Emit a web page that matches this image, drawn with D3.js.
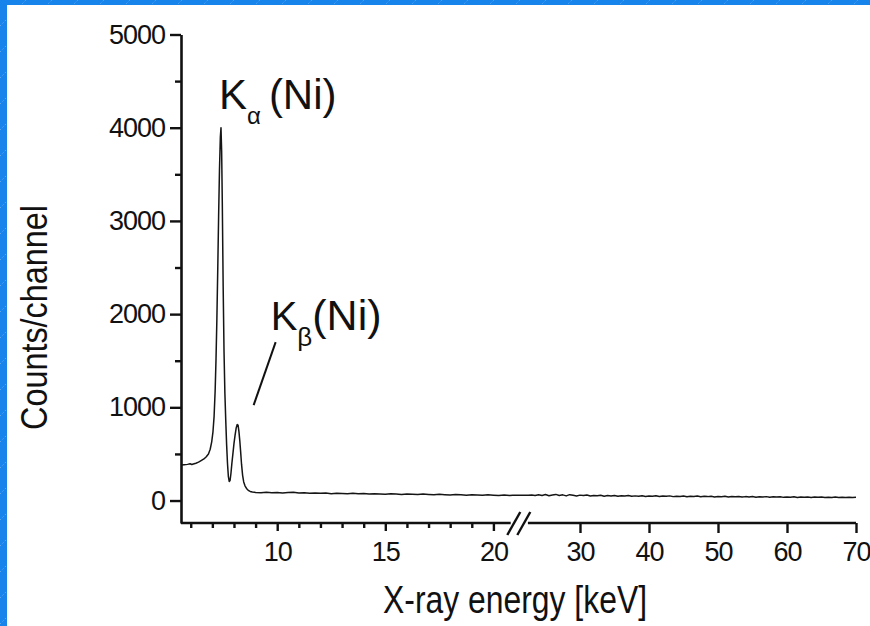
<!DOCTYPE html>
<html>
<head>
<meta charset="utf-8">
<script src="https://cdn.jsdelivr.net/npm/d3@7"></script>
<style>
  body { margin: 0; background: #fff; }
  svg { display: block; font-family: "Liberation Sans", Arial, Helvetica, sans-serif; }
</style>
</head>
<body>
<div id="chart"></div>
<script>
// spectrum (keV, counts per channel)
const energyKeV = [
  5.55, 5.70, 5.85, 5.97, 6.05, 6.12, 6.24, 6.36, 6.48, 6.61, 6.72, 6.82, 6.90, 6.97, 7.03, 7.08,
  7.13, 7.17, 7.21, 7.25, 7.29, 7.33, 7.37, 7.40, 7.43, 7.46, 7.50, 7.54, 7.58, 7.62, 7.66, 7.70,
  7.74, 7.78, 7.82, 7.86, 7.90, 7.95, 8.00, 8.05, 8.10, 8.15, 8.19, 8.23, 8.27, 8.31, 8.35, 8.40,
  8.45, 8.51, 8.58, 8.66, 8.75, 8.85, 8.95,
  9.00, 9.25, 9.50, 9.75, 10.00, 10.25, 10.50, 10.75, 11.00, 11.25, 11.50, 11.75, 12.00, 12.25,
  12.50, 12.75, 13.00, 13.25, 13.50, 13.75, 14.00, 14.25, 14.50, 14.75, 15.00, 15.25, 15.50,
  15.75, 16.00, 16.25, 16.50, 16.75, 17.00, 17.25, 17.50, 17.75, 18.00, 18.25, 18.50, 18.75,
  19.00, 19.25, 19.50, 19.75, 20.00, 20.25, 20.50, 20.75, 21.00,
  22.5, 23.0, 23.5, 24.0, 24.5, 25.0, 25.5, 26.0, 26.5, 27.0, 27.5, 28.0, 28.5, 29.0, 29.5,
  30.0, 30.5, 31.0, 31.5, 32.0, 32.5, 33.0, 33.5, 34.0, 34.5, 35.0, 35.5, 36.0, 36.5, 37.0,
  37.5, 38.0, 38.5, 39.0, 39.5, 40.0, 40.5, 41.0, 41.5, 42.0, 42.5, 43.0, 43.5, 44.0, 44.5,
  45.0, 45.5, 46.0, 46.5, 47.0, 47.5, 48.0, 48.5, 49.0, 49.5, 50.0, 50.5, 51.0, 51.5, 52.0,
  52.5, 53.0, 53.5, 54.0, 54.5, 55.0, 55.5, 56.0, 56.5, 57.0, 57.5, 58.0, 58.5, 59.0, 59.5,
  60.0, 60.5, 61.0, 61.5, 62.0, 62.5, 63.0, 63.5, 64.0, 64.5, 65.0, 65.5, 66.0, 66.5, 67.0,
  67.5, 68.0, 68.5, 69.0, 69.5, 70.0
];
const counts = [
  380, 384, 388, 394, 386, 392, 400, 412, 428, 446, 470, 500, 550, 630, 740, 900,
  1180, 1520, 1950, 2480, 3050, 3550, 3900, 4000, 3750, 3200, 2300, 1600, 1150, 860, 600, 400,
  260, 205, 215, 290, 390, 500, 610, 700, 775, 815, 810, 740, 640, 520, 390, 270,
  200, 158, 130, 110, 98, 92, 88,
  86, 84, 89, 83, 87, 81, 85, 88, 80, 84, 79, 82, 77, 80,
  74, 78, 76, 72, 77, 73, 75, 70, 74, 71, 68, 73, 69,
  66, 71, 67, 64, 69, 65, 62, 67, 63, 60, 65, 61, 58,
  63, 59, 56, 61, 57, 54, 59, 55, 57,
  56, 60, 53, 62, 55, 64, 52, 60, 66, 54, 61, 50, 63, 56, 49,
  58, 53, 60, 48, 55, 51, 57, 47, 53, 49, 55, 46, 52, 48, 54,
  45, 50, 47, 52, 44, 49, 46, 51, 43, 48, 45, 50, 42, 47, 44,
  49, 41, 46, 43, 48, 40, 45, 42, 46, 39, 44, 41, 45, 38, 43,
  40, 44, 37, 42, 39, 43, 36, 41, 38, 42, 35, 40, 37, 41, 34,
  39, 36, 40, 33, 38, 35, 39, 33, 37, 34, 38, 32, 36, 33, 37,
  32, 35, 33, 36, 32, 34
];

const yTicks = [0, 1000, 2000, 3000, 4000, 5000];
const yMinorTicks = [500, 1500, 2500, 3500, 4500];
const xTicksLow = [10, 15, 20];
const xMinorLow = [6, 7, 8, 9, 11, 12, 13, 14, 16, 17, 18, 19];
const xTicksHigh = [30, 40, 50, 60, 70];
// broken axis: low part ends, high part starts
const xBreak = [20.8, 22.45];

const peaks = [
  { main: "K", sub: "\u03b1", tail: "(Ni)", e: 7.40, c: 4000 },
  { main: "K", sub: "\u03b2", tail: "(Ni)", e: 8.17, c: 820 }
];

const W = 870, H = 626;

const svg = d3.select("#chart").append("svg")
  .attr("width", W)
  .attr("height", H);

// blue slide frame with faint dashed diagonals
const defs = svg.append("defs");
const pat = defs.append("pattern")
  .attr("id", "stripes")
  .attr("width", 26).attr("height", 26)
  .attr("patternUnits", "userSpaceOnUse");
pat.append("rect").attr("width", 26).attr("height", 26).attr("fill", "#1784ec");
pat.append("line")
  .attr("x1", 0).attr("y1", 26).attr("x2", 26).attr("y2", 0)
  .attr("stroke", "rgba(255,255,255,0.35)")
  .attr("stroke-width", 0.8)
  .attr("stroke-dasharray", "1.5 2");

svg.append("rect").attr("width", W).attr("height", H).attr("fill", "url(#stripes)");
svg.append("rect").attr("x", 7).attr("y", 5).attr("width", W - 7).attr("height", H - 5).attr("fill", "#fff");

// scales
const x = d3.scaleLinear()
  .domain([5.55, xBreak[0], xBreak[1], 70])
  .range([181, 510.7, 527.9, 856]);

const y = d3.scaleLinear()
  .domain([-241, 5000])
  .range([523, 34.5]);

const axisColor = "#111";
const tickFont = 27;

// y axis
const yAxis = svg.append("g")
  .attr("transform", "translate(181,0)")
  .call(d3.axisLeft(y).tickValues(yTicks).tickSize(11).tickSizeOuter(0).tickPadding(5)
    .tickFormat(d3.format("d")));
svg.append("g")
  .attr("transform", "translate(181,0)")
  .call(d3.axisLeft(y).tickValues(yMinorTicks).tickSize(6).tickFormat(""))
  .call(g => g.select(".domain").remove());

yAxis.select(".domain").attr("stroke-width", 2.6).attr("stroke", axisColor);
svg.selectAll("g.tick line").attr("stroke-width", 2.4).attr("stroke", axisColor);
yAxis.selectAll("text")
  .attr("font-size", tickFont)
  .attr("letter-spacing", -1)
  .attr("fill", axisColor)
  .attr("font-family", "'Liberation Sans', Arial, sans-serif");

// x axis (two parts with a break)
const xAxisY = 523;
const xLowMajor = svg.append("g")
  .attr("transform", "translate(0," + xAxisY + ")")
  .call(d3.axisBottom(x).tickValues(xTicksLow).tickSize(8).tickPadding(11).tickFormat(d3.format("d")));
const xLowMinor = svg.append("g")
  .attr("transform", "translate(0," + xAxisY + ")")
  .call(d3.axisBottom(x).tickValues(xMinorLow).tickSize(5).tickFormat(""));
const xHigh = svg.append("g")
  .attr("transform", "translate(0," + xAxisY + ")")
  .call(d3.axisBottom(x).tickValues(xTicksHigh).tickSize(10).tickPadding(9).tickFormat(d3.format("d")));

[xLowMajor, xLowMinor, xHigh].forEach(g => {
  g.select(".domain").remove();
  g.selectAll("line").attr("stroke-width", 2.4).attr("stroke", axisColor);
  g.selectAll("text")
    .attr("font-size", tickFont)
    .attr("letter-spacing", -1)
    .attr("fill", axisColor)
    .attr("font-family", "'Liberation Sans', Arial, sans-serif");
});

svg.append("line")
  .attr("x1", x(5.55)).attr("x2", x(xBreak[0]))
  .attr("y1", xAxisY).attr("y2", xAxisY)
  .attr("stroke", axisColor).attr("stroke-width", 2.6);
svg.append("line")
  .attr("x1", x(xBreak[1])).attr("x2", x(70))
  .attr("y1", xAxisY).attr("y2", xAxisY)
  .attr("stroke", axisColor).attr("stroke-width", 2.6);

// break marks "//"
const gapMid = (x(xBreak[0]) + x(xBreak[1])) / 2;
[-5.5, 4.5].forEach(off => {
  svg.append("line")
    .attr("x1", gapMid + off - 6.5).attr("y1", xAxisY + 12)
    .attr("x2", gapMid + off + 6.5).attr("y2", xAxisY - 11)
    .attr("stroke", axisColor).attr("stroke-width", 2.4);
});

// spectrum line
const line = d3.line()
  .x((d, i) => x(energyKeV[i]))
  .y(d => y(d));

svg.append("path")
  .datum(counts)
  .attr("fill", "none")
  .attr("stroke", "#151515")
  .attr("stroke-width", 1.5)
  .attr("stroke-linejoin", "round")
  .attr("d", line);

// peak labels: K, subscript, (Ni) as one text each
function peakLabel(p, dx, dy, sizes, subDy, tailDx) {
  const t = svg.append("text")
    .attr("x", x(p.e) + dx)
    .attr("y", y(p.c) + dy)
    .attr("fill", "#111");
  t.append("tspan").attr("font-size", sizes[0]).text(p.main);
  t.append("tspan").attr("font-size", sizes[1]).attr("dy", subDy).text(p.sub);
  t.append("tspan").attr("font-size", sizes[2]).attr("dx", tailDx).attr("dy", -subDy).text(p.tail);
}
peakLabel(peaks[0], -2, -19, [42, 24, 42], 15, 8);
peakLabel(peaks[1], 33, -94, [40, 26, 43], 16, 0);

svg.append("line")
  .attr("x1", x(peaks[1].e) + 38).attr("y1", y(peaks[1].c) - 82)
  .attr("x2", x(peaks[1].e) + 16).attr("y2", y(peaks[1].c) - 19)
  .attr("stroke", "#111").attr("stroke-width", 2);

// axis titles
svg.append("text")
  .attr("transform", "translate(47,317.5) rotate(-90)")
  .attr("text-anchor", "middle")
  .attr("font-size", 37)
  .attr("textLength", 225)
  .attr("lengthAdjust", "spacingAndGlyphs")
  .attr("fill", "#111")
  .text("Counts/channel");

svg.append("text")
  .attr("x", 515).attr("y", 613)
  .attr("text-anchor", "middle")
  .attr("font-size", 38)
  .attr("textLength", 264)
  .attr("lengthAdjust", "spacingAndGlyphs")
  .attr("fill", "#111")
  .text("X-ray energy [keV]");
</script>
</body>
</html>
